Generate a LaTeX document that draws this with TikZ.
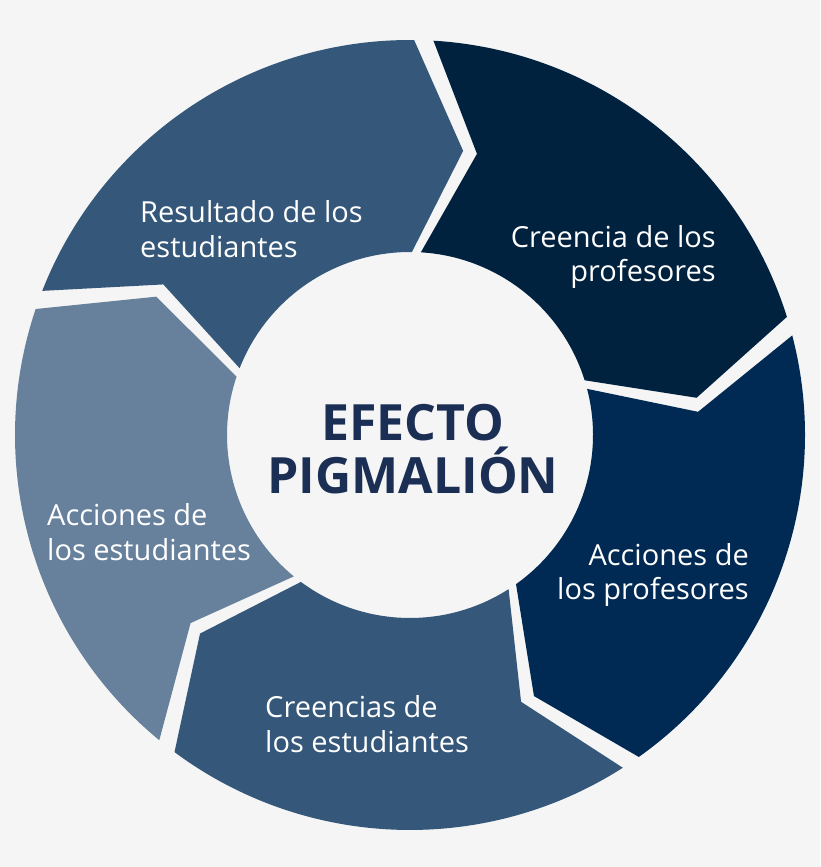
\documentclass[tikz,border=0pt]{standalone}
\usepackage{fontspec}
\setmainfont{Open Sans}
\begin{document}
\begin{tikzpicture}[x=1pt,y=1pt,
  lbl/.style={text=white,font=\fontsize{29}{34.5}\selectfont,inner sep=0pt},
  seg/.style={draw=none}]
\fill[white!96!black] (0,0) rectangle (820,867);
\useasboundingbox (0,0) rectangle (820,867);
\def\ro{395}\def\ri{183}\def\rm{289}\def\g{1.4}\def\d{10}
\newcommand{\segment}[3]{%
  \pgfmathsetmacro\aA{#1-\g}\pgfmathsetmacro\aB{#2+\g}%
  \pgfmathsetmacro\aC{#2+\g-\d}\pgfmathsetmacro\aD{#1-\g-\d}%
  \fill[#3,shift={(410,432)}] (\aA:\ro) arc[start angle=\aA,end angle=\aB,radius=\ro]
    -- (\aC:\rm) -- (\aB:\ri) arc[start angle=\aB,end angle=\aA,radius=\ri]
    -- (\aD:\rm) -- cycle;}
\definecolor{cA}{HTML}{34577A}
\definecolor{cB}{HTML}{00223F}
\definecolor{cC}{HTML}{002A54}
\definecolor{cD}{HTML}{35577A}
\definecolor{cE}{HTML}{67819C}
\definecolor{title}{HTML}{1B2F55}
\segment{160}{88}{cA}
\segment{88}{16}{cB}
\segment{16}{-56}{cC}
\segment{-56}{-128}{cD}
\segment{-128}{-200}{cE}
\node[lbl,anchor=west,align=left] (r) at (140,638) {Resultado de los\\estudiantes};
\node[lbl,anchor=east,align=right] (c) at (716,610) {Creencia de los\\profesores};
\node[lbl,anchor=east,align=right] (ap) at (749,292) {Acciones de\\los profesores};
\node[lbl,anchor=west,align=left] (ce) at (265,143) {Creencias de\\los estudiantes};
\node[lbl,anchor=west,align=left] (ae) at (47,335) {Acciones de\\los estudiantes};
\node[text=title,font=\bfseries\fontsize{50}{53}\selectfont,align=center] (t) at (413,418) {EFECTO\\PIGMALIÓN};
\end{tikzpicture}
\end{document}
